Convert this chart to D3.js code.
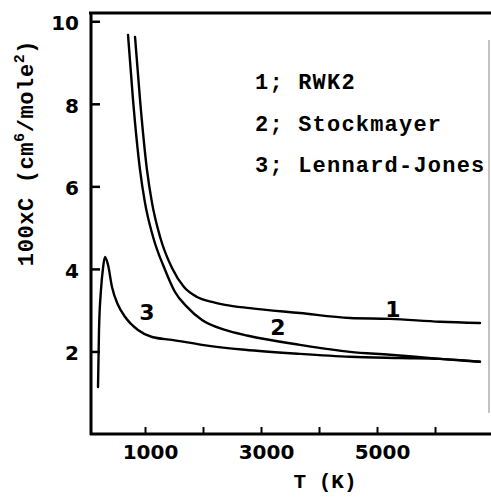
<!DOCTYPE html>
<html>
<head>
<meta charset="utf-8">
<script src="https://cdn.jsdelivr.net/npm/d3@7"></script>
<style>
  body { margin: 0; background: #fff; }
  svg { display: block; }
</style>
</head>
<body>
<svg id="chart" width="491" height="497"></svg>
<script>
// values (T in K, 100xC in cm^6/mole^2)
var rwk2T = [828, 914, 1034, 1121, 1259, 1466, 1672, 1897, 2155, 2379, 2810, 3672, 4534, 5224, 6086, 6776];
var rwk2C = [9.62, 8.10, 6.40, 5.60, 4.78, 4.02, 3.56, 3.32, 3.20, 3.13, 3.05, 2.93, 2.81, 2.79, 2.72, 2.69];

var stockT = [707, 793, 914, 1000, 1138, 1345, 1517, 1724, 1983, 2379, 2776, 3672, 4534, 5224, 6086, 6776];
var stockC = [9.67, 8.10, 6.40, 5.60, 4.78, 3.98, 3.44, 3.08, 2.76, 2.52, 2.38, 2.16, 1.99, 1.92, 1.82, 1.75];

var ljT = [190, 207, 241, 276, 310, 362, 431, 534, 655, 879, 1121, 1466, 1983, 2724, 3672, 4534, 5397, 6086, 6776];
var ljC = [1.14, 2.52, 3.49, 4.02, 4.29, 4.10, 3.56, 3.13, 2.84, 2.52, 2.35, 2.28, 2.16, 2.04, 1.94, 1.87, 1.84, 1.82, 1.75];

var curveNames = ["1", "2", "3"];
var labelT = [5276, 3293, 1034];
var labelC = [2.84, 2.40, 2.76];

var legendLines = ["1; RWK2", "2; Stockmayer", "3; Lennard-Jones"];
var xTicks = [1000, 2000, 3000, 4000, 5000, 6000];
var xTickLabels = ["1000", "", "3000", "", "5000", ""];
var yTicks = [2, 4, 6, 8, 10];

var svg = d3.select("#chart");

var x = d3.scaleLinear().domain([0, 6948]).range([87, 490]);
var y = d3.scaleLinear().domain([0, 10.2]).range([434, 13]);

var tickFont = "'DejaVu Sans', sans-serif";
var monoFont = "'Liberation Mono', 'DejaVu Sans Mono', monospace";

// frame: top edge, left axis, bottom axis
svg.append("line")
    .attr("x1", 89).attr("x2", 491)
    .attr("y1", 13).attr("y2", 13)
    .attr("stroke", "#000").attr("stroke-width", 3);
svg.append("line")
    .attr("x1", 91).attr("x2", 91)
    .attr("y1", 12).attr("y2", 435)
    .attr("stroke", "#000").attr("stroke-width", 3);
svg.append("line")
    .attr("x1", 90).attr("x2", 491)
    .attr("y1", 434).attr("y2", 434)
    .attr("stroke", "#000").attr("stroke-width", 3);
// faint right edge of the scan
svg.append("line")
    .attr("x1", 489).attr("x2", 489)
    .attr("y1", 40).attr("y2", 413)
    .attr("stroke", "#888").attr("stroke-width", 1);

var yAxis = d3.axisLeft(y)
    .tickValues(yTicks)
    .tickFormat(d3.format("d"))
    .tickSizeInner(-9)
    .tickSizeOuter(0)
    .tickPadding(12);

var gy = svg.append("g")
    .attr("transform", "translate(91,0)")
    .call(yAxis);
gy.select(".domain").remove();
gy.selectAll(".tick line").attr("stroke", "#000").attr("stroke-width", 2.5);
gy.selectAll(".tick text")
    .attr("dy", "0.42em")
    .style("font-family", tickFont)
    .style("font-weight", "bold")
    .style("font-size", "20px")
    .attr("fill", "#000");

var xAxis = d3.axisBottom(x)
    .tickValues(xTicks)
    .tickFormat(function (d, i) { return xTickLabels[i]; })
    .tickSizeInner(-7)
    .tickSizeOuter(0)
    .tickPadding(11);

var gx = svg.append("g")
    .attr("transform", "translate(0,434)")
    .call(xAxis);
gx.select(".domain").remove();
gx.selectAll(".tick line").attr("stroke", "#000").attr("stroke-width", 2);
gx.selectAll(".tick text")
    .attr("dx", 5)
    .style("font-family", tickFont)
    .style("font-weight", "bold")
    .style("font-size", "20px")
    .attr("fill", "#000");

// curves
var line = d3.line()
    .x(function (d) { return x(d[0]); })
    .y(function (d) { return y(d[1]); })
    .curve(d3.curveMonotoneX);

var series = [d3.zip(rwk2T, rwk2C), d3.zip(stockT, stockC), d3.zip(ljT, ljC)];

svg.selectAll("path.curve")
    .data(series)
    .enter()
    .append("path")
    .attr("class", "curve")
    .attr("d", line)
    .attr("fill", "none")
    .attr("stroke", "#000")
    .attr("stroke-width", 2.4)
    .attr("stroke-linecap", "round")
    .attr("stroke-linejoin", "round");

svg.selectAll("text.curveLabel")
    .data(curveNames)
    .enter()
    .append("text")
    .attr("class", "curveLabel")
    .attr("x", function (d, i) { return x(labelT[i]); })
    .attr("y", function (d, i) { return y(labelC[i]); })
    .attr("text-anchor", "middle")
    .style("font-family", tickFont)
    .style("font-size", "22px")
    .style("font-weight", "bold")
    .text(function (d) { return d; });

// legend text
svg.selectAll("text.legend")
    .data(legendLines)
    .enter()
    .append("text")
    .attr("class", "legend")
    .attr("x", 255)
    .attr("y", function (d, i) { return 89 + i * 41.5; })
    .style("font-family", monoFont)
    .style("font-weight", "bold")
    .style("font-size", "22px")
    .style("letter-spacing", "1.2px")
    .text(function (d) { return d; });

// axis titles
svg.append("text")
    .attr("x", 325)
    .attr("y", 488)
    .attr("text-anchor", "middle")
    .style("font-family", monoFont)
    .style("font-weight", "bold")
    .style("font-size", "21px")
    .text("T (K)");

var yt = svg.append("text")
    .attr("transform", "translate(33,153) rotate(-90)")
    .attr("text-anchor", "middle")
    .style("font-family", monoFont)
    .style("font-weight", "bold")
    .style("font-size", "22px")
    .style("letter-spacing", "0.6px");
yt.append("tspan").text("100xC (cm");
yt.append("tspan").attr("dy", -9).style("font-size", "15px").text("6");
yt.append("tspan").attr("dy", 9).text("/mole");
yt.append("tspan").attr("dy", -9).style("font-size", "15px").text("2");
yt.append("tspan").attr("dy", 9).text(")");
</script>
</body>
</html>
